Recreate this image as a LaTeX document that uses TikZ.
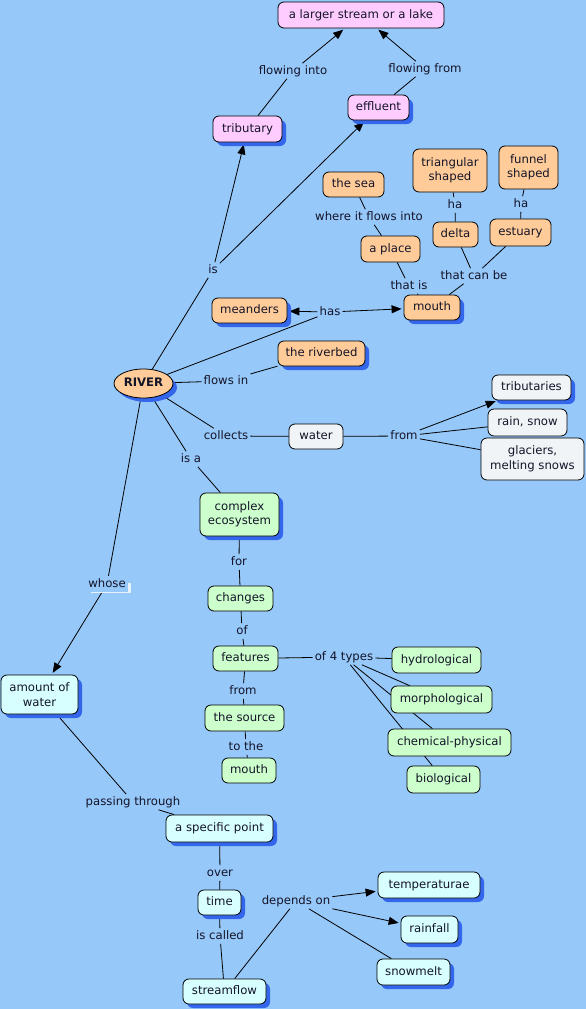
\documentclass[tikz,border=0pt]{standalone}
\usepackage{fontspec}
\setmainfont{DejaVu Sans}
\usetikzlibrary{shapes.geometric,arrows.meta,shadows}
\definecolor{bgc}{RGB}{150,200,250}
\definecolor{pinkc}{RGB}{255,204,255}
\definecolor{orc}{RGB}{255,204,153}
\definecolor{whc}{RGB}{240,244,247}
\definecolor{grc}{RGB}{204,255,204}
\definecolor{cyc}{RGB}{215,255,255}
\definecolor{shc}{RGB}{51,102,235}
\definecolor{txc}{RGB}{20,20,40}
\definecolor{hlc}{RGB}{232,240,250}
\pgfdeclarelayer{bgl}
\pgfdeclarelayer{lines}
\pgfsetlayers{bgl,lines,main}
\tikzset{
  cn/.style={draw=black, line width=0.8pt, rounded corners=6pt, align=center,
    inner sep=2pt, text=txc, text height=8.6pt, text depth=2.6pt},
  ml/.style={text height={}, text depth={}},
  pk/.style={cn, fill=pinkc},
  orn/.style={cn, fill=orc},
  wt/.style={cn, fill=whc},
  gr/.style={cn, fill=grc},
  cy/.style={cn, fill=cyc},
  sh/.style={drop shadow={shadow xshift=4pt, shadow yshift=-4pt, fill=shc, opacity=1}},
  lk/.style={inner sep=2pt, text=txc, text height=8.6pt, text depth=2.6pt},
  ln/.style={draw=black, line width=0.8pt},
  ar/.style={ln, -{Triangle[length=10pt,width=8pt]}, shorten >=2pt},
}
\begin{document}
\begin{tikzpicture}[x=1pt,y=-1pt,font=\fontsize{11.7}{14.5}\selectfont]
\useasboundingbox (0,0) rectangle (586,1009);
\begin{pgfonlayer}{bgl}
\fill[bgc] (0,0) rectangle (586,1009);
\end{pgfonlayer}
% concepts
\node[pk, minimum width=166pt, minimum height=26pt] (lake) at (361,15) {a larger stream or a lake};
\node[pk, sh, minimum width=69pt, minimum height=26pt] (trib) at (247.5,129) {tributary};
\node[pk, sh, minimum width=61pt, minimum height=25pt] (effl) at (378.5,107.5) {effluent};
\node[orn, minimum width=61pt, minimum height=25pt] (sea) at (353.5,184.5) {the sea};
\node[orn, ml, minimum width=74pt, minimum height=43pt] (tri) at (450,170.5) {triangular\\shaped};
\node[orn, ml, minimum width=59pt, minimum height=43pt] (fun) at (528.5,167.5) {funnel\\shaped};
\node[orn, minimum width=59pt, minimum height=26pt] (place) at (390.5,249) {a place};
\node[orn, minimum width=45pt, minimum height=25pt] (delta) at (455.5,234.5) {delta};
\node[orn, minimum width=61pt, minimum height=27pt] (estu) at (520.5,232.5) {estuary};
\node[orn, sh, minimum width=75pt, minimum height=25pt] (mea) at (249.5,310.5) {meanders};
\node[orn, sh, minimum width=56pt, minimum height=25pt] (mouth) at (432,307.5) {mouth};
\node[orn, sh, minimum width=87pt, minimum height=25pt] (bed) at (321.5,353.5) {the riverbed};
\node[orn, sh, ellipse, rounded corners=0pt, inner sep=0pt, minimum width=59pt, minimum height=29pt] (river) at (143.5,383.5) {\bfseries RIVER};
\node[wt, sh, minimum width=79pt, minimum height=25pt] (tribs) at (531.5,387.5) {tributaries};
\node[wt, minimum width=54pt, minimum height=25pt] (water) at (316,436.5) {water};
\node[wt, minimum width=79pt, minimum height=27pt] (rain) at (527.5,422.5) {rain, snow};
\node[wt, ml, minimum width=103pt, minimum height=42pt] (glac) at (532.5,459) {glaciers,\\melting snows};
\node[gr, ml, sh, minimum width=79pt, minimum height=43pt] (eco) at (239.5,514.5) {complex\\ecosystem};
\node[gr, minimum width=65pt, minimum height=25pt] (chg) at (240.5,598.5) {changes};
\node[gr, minimum width=65pt, minimum height=25pt] (feat) at (245.5,658.5) {features};
\node[gr, minimum width=89pt, minimum height=26pt] (hyd) at (436.5,660) {hydrological};
\node[gr, minimum width=101pt, minimum height=27pt] (mor) at (441.5,699.5) {morphological};
\node[gr, minimum width=123pt, minimum height=27pt] (chem) at (449.5,742.5) {chemical-physical};
\node[gr, minimum width=73pt, minimum height=27pt] (bio) at (443.5,779.5) {biological};
\node[gr, minimum width=79pt, minimum height=26pt] (src) at (244.5,718) {the source};
\node[gr, minimum width=54pt, minimum height=25pt] (mth) at (249,770.5) {mouth};
\node[cy, ml, sh, minimum width=77pt, minimum height=39pt] (amt) at (39.5,694.5) {amount of\\water};
\node[cy, sh, minimum width=107pt, minimum height=27pt] (spt) at (219.5,828.5) {a specific point};
\node[cy, sh, minimum width=43pt, minimum height=25pt] (time) at (219.5,902.5) {time};
\node[cy, sh, minimum width=102pt, minimum height=26pt] (temp) at (429,885) {temperaturae};
\node[cy, sh, minimum width=57pt, minimum height=27pt] (rainf) at (429.5,929.5) {rainfall};
\node[cy, sh, minimum width=73pt, minimum height=26pt] (snow) at (413.5,972) {snowmelt};
\node[cy, sh, minimum width=83pt, minimum height=25pt] (flow) at (224.5,991.5) {streamflow};
% linking phrases
\node[lk] (fi) at (293,71) {flowing into};
\node[lk] (ff) at (425,69) {flowing from};
\node[lk] (is) at (213,270) {is};
\node[lk] (wfi) at (369,217) {where it flows into};
\node[lk] (ha1) at (455,205) {ha};
\node[lk] (ha2) at (521,204) {ha};
\node[lk] (ti) at (409,286) {that is};
\node[lk] (tcb) at (474,276) {that can be};
\node[lk] (has) at (330,312) {has};
\node[lk] (fin) at (226,381) {flows in};
\node[lk] (col) at (226,436) {collects};
\node[lk] (fr1) at (404,436) {from};
\node[lk] (isa) at (191,459) {is a};
\fill[hlc] (91,583) rectangle (131,593);
\node[lk, fill=bgc] (whose) at (107,584) {whose};
\node[lk] (for) at (239,562) {for};
\node[lk] (of) at (242,631) {of};
\node[lk] (f4) at (344,657) {of 4 types};
\node[lk] (fr2) at (243,691) {from};
\node[lk] (tt) at (246,747) {to the};
\node[lk] (pt) at (133,802) {passing through};
\node[lk] (over) at (220,873) {over};
\node[lk] (ic) at (220,936) {is called};
\node[lk] (dep) at (296,901) {depends on};
% connectors
\begin{pgfonlayer}{lines}
\draw[ln] (trib) -- (fi); \draw[ar] (fi) -- (lake);
\draw[ln] (effl) -- (ff); \draw[ar] (ff) -- (lake);
\draw[ln] (river) -- (is); \draw[ar] (is) -- (trib); \draw[ar] (is) -- (effl);
\draw[ln] (sea) -- (wfi); \draw[ln] (wfi) -- (place);
\draw[ln] (place) -- (ti); \draw[ln] (ti) -- (mouth);
\draw[ln] (tri) -- (ha1); \draw[ln] (ha1) -- (delta);
\draw[ln] (fun) -- (ha2); \draw[ln] (ha2) -- (estu);
\draw[ln] (delta) -- (tcb); \draw[ln] (estu) -- (tcb); \draw[ln] (tcb) -- (mouth);
\draw[ln] (river) -- (has); \draw[ar] (has) -- (mea); \draw[ar] (has) -- (mouth);
\draw[ln] (river) -- (fin); \draw[ln] (fin) -- (bed);
\draw[ln] (river) -- (col); \draw[ln] (col) -- (water);
\draw[ln] (water) -- (fr1); \draw[ar] (fr1) -- (tribs); \draw[ln] (fr1) -- (rain); \draw[ln] (fr1) -- (glac);
\draw[ln] (river) -- (isa); \draw[ln] (isa) -- (eco);
\draw[ln] (river) -- (whose); \draw[ar] (whose) -- (amt);
\draw[ln] (eco) -- (for); \draw[ln] (for) -- (chg);
\draw[ln] (chg) -- (of); \draw[ln] (of) -- (feat);
\draw[ln] (feat) -- (f4); \draw[ln] (f4) -- (hyd); \draw[ln] (f4) -- (mor); \draw[ln] (f4) -- (chem); \draw[ln] (f4) -- (bio);
\draw[ln] (feat) -- (fr2); \draw[ln] (fr2) -- (src);
\draw[ln] (src) -- (tt); \draw[ln] (tt) -- (mth);
\draw[ln] (amt) -- (pt); \draw[ln] (pt) -- (spt);
\draw[ln] (spt) -- (over); \draw[ln] (over) -- (time);
\draw[ln] (time) -- (ic); \draw[ln] (ic) -- (flow);
\draw[ln] (flow) -- (dep); \draw[ar] (dep) -- (temp); \draw[ar] (dep) -- (rainf); \draw[ln] (dep) -- (snow);
\end{pgfonlayer}
\end{tikzpicture}
\end{document}
